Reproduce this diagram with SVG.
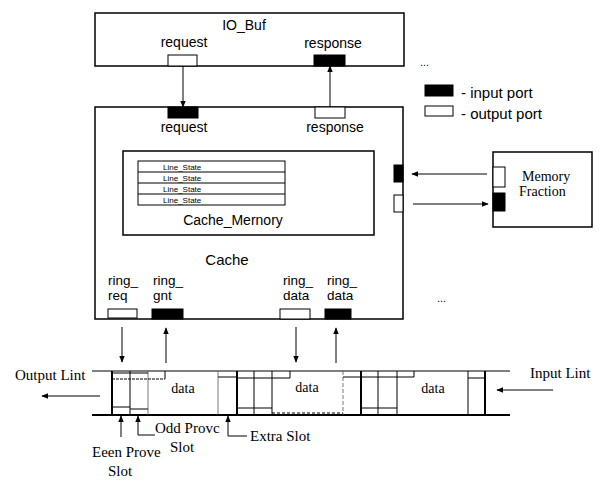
<svg xmlns="http://www.w3.org/2000/svg" width="603" height="481" viewBox="0 0 603 481">
<defs>
<marker id="ah" viewBox="0 0 10 10" refX="9" refY="5" markerWidth="7" markerHeight="7" orient="auto-start-reverse" markerUnits="userSpaceOnUse">
<path d="M0,1 L10,5 L0,9 z" fill="#000"/>
</marker>
<style>
.box{fill:#fff;stroke:#000;stroke-width:1.5}
.in{fill:#000;stroke:#000;stroke-width:1}
.out{fill:#fff;stroke:#000;stroke-width:1}
.sans{font-family:"Liberation Sans",Arial,sans-serif;fill:#000}
.serif{font-family:"Liberation Serif","Times New Roman",serif;fill:#000}
.ln{stroke:#000;stroke-width:1;fill:none}
.thk{stroke:#000;stroke-width:2;fill:none}
.thin{stroke:#555;stroke-width:0.8;fill:none}
.arr{stroke:#000;stroke-width:1;fill:none;marker-end:url(#ah)}
</style>
</defs>
<rect width="603" height="481" fill="#fff"/>

<g id="io_buf">
<rect class="box" x="95" y="13" width="309" height="53"/>
<text class="sans" x="244" y="30" font-size="14" text-anchor="middle">IO_Buf</text>
<text class="sans" x="184" y="47" font-size="14" text-anchor="middle">request</text>
<text class="sans" x="333" y="48" font-size="14" text-anchor="middle">response</text>
<rect class="out" x="168" y="55" width="29" height="11"/>
<rect class="in" x="314" y="55" width="31" height="11"/>
</g>
<text class="sans" x="420" y="66" font-size="11">...</text>

<g id="legend">
<rect class="in" x="425" y="85" width="28" height="11"/>
<text class="sans" x="461" y="98" font-size="15">- input port</text>
<rect class="out" x="425" y="106" width="28" height="10"/>
<text class="sans" x="461" y="119" font-size="15">- output port</text>
</g>

<g id="cache">
<rect class="box" x="95" y="107" width="308" height="212"/>
<rect class="in" x="168" y="107" width="30" height="11"/>
<rect class="out" x="315" y="107" width="30" height="11"/>
<text class="sans" x="184" y="132" font-size="14" text-anchor="middle">request</text>
<text class="sans" x="335" y="132" font-size="14" text-anchor="middle">response</text>
<rect class="in" x="394" y="165" width="9" height="17"/>
<rect class="out" x="394" y="195" width="9" height="17"/>
<text class="sans" x="227" y="265" font-size="15" text-anchor="middle">Cache</text>
<text class="sans" x="108" y="285" font-size="13.5">ring_</text>
<text class="sans" x="108" y="300" font-size="13.5">req</text>
<text class="sans" x="153" y="285" font-size="13.5">ring_</text>
<text class="sans" x="153" y="300" font-size="13.5">gnt</text>
<text class="sans" x="283" y="285" font-size="13.5">ring_</text>
<text class="sans" x="283" y="300" font-size="13.5">data</text>
<text class="sans" x="327" y="285" font-size="13.5">ring_</text>
<text class="sans" x="327" y="300" font-size="13.5">data</text>
<rect class="out" x="108" y="309" width="29" height="9"/>
<rect class="in" x="152" y="309" width="31" height="10"/>
<rect class="out" x="280" y="309" width="30" height="10"/>
<rect class="in" x="325" y="309" width="26" height="10"/>
</g>
<text class="sans" x="437" y="302" font-size="11">...</text>

<g id="cache_memory">
<rect class="box" x="123" y="151" width="251" height="84" stroke-width="1.2"/>
<rect x="138" y="161" width="147" height="44" fill="none" stroke="#000" stroke-width="1"/>
<line class="ln" x1="138" y1="172" x2="285" y2="172"/>
<line class="ln" x1="138" y1="183" x2="285" y2="183"/>
<line class="ln" x1="138" y1="194" x2="285" y2="194"/>
<text class="sans" x="163" y="170" font-size="8">Line_State</text>
<text class="sans" x="163" y="181" font-size="8">Line_State</text>
<text class="sans" x="163" y="192" font-size="8">Line_State</text>
<text class="sans" x="163" y="203" font-size="8">Line_State</text>
<text class="sans" x="233" y="225" font-size="14" text-anchor="middle">Cache_Mernory</text>
</g>

<g id="memory_fraction">
<rect class="box" x="493" y="152" width="99" height="75"/>
<rect class="out" x="493" y="167" width="12" height="20"/>
<rect class="in" x="493" y="193" width="12" height="18"/>
<text class="serif" x="522" y="181" font-size="14">Memory</text>
<text class="serif" x="519" y="196" font-size="14">Fraction</text>
</g>

<g id="ring">
<line class="ln" x1="92" y1="371" x2="510" y2="371" stroke-width="1.3"/>
<line class="thk" x1="92" y1="415" x2="510" y2="415"/>
<line class="thk" x1="112" y1="371" x2="112" y2="415"/>
<line class="ln" x1="130" y1="371" x2="130" y2="415"/>
<line class="thin" x1="148" y1="371" x2="148" y2="415"/>
<line class="thin" x1="218" y1="371" x2="218" y2="415"/>
<line class="thk" x1="237" y1="371" x2="237" y2="415"/>
<line class="ln" x1="254" y1="371" x2="254" y2="415"/>
<line class="ln" x1="272" y1="371" x2="272" y2="415"/>
<line class="thin" x1="343" y1="371" x2="343" y2="415" stroke-dasharray="4,2"/>
<line class="thk" x1="361" y1="371" x2="361" y2="415"/>
<line class="ln" x1="378" y1="371" x2="378" y2="415"/>
<line class="ln" x1="397" y1="371" x2="397" y2="415"/>
<line class="ln" x1="468" y1="371" x2="468" y2="415"/>
<line class="thk" x1="485" y1="371" x2="485" y2="415"/>
<line class="ln" x1="112" y1="373" x2="148" y2="373"/>
<line class="ln" x1="112" y1="379" x2="165" y2="379" stroke-dasharray="3,1"/>
<line class="ln" x1="165" y1="371" x2="165" y2="379"/>
<line class="ln" x1="112" y1="407" x2="130" y2="407"/>
<line class="ln" x1="130" y1="409" x2="148" y2="409"/>
<line class="ln" x1="218" y1="377" x2="237" y2="377"/>
<line class="ln" x1="237" y1="378" x2="290" y2="378"/>
<line class="ln" x1="290" y1="371" x2="290" y2="378"/>
<line class="ln" x1="237" y1="408" x2="272" y2="408"/>
<line class="ln" x1="272" y1="413" x2="343" y2="413" stroke-dasharray="3,2"/>
<line class="ln" x1="343" y1="377" x2="414" y2="377"/>
<line class="ln" x1="414" y1="371" x2="414" y2="377"/>
<line class="ln" x1="361" y1="408" x2="397" y2="408"/>
<line class="ln" x1="468" y1="378" x2="485" y2="378"/>
<text class="serif" x="183" y="393" font-size="14" text-anchor="middle">data</text>
<text class="serif" x="307" y="392" font-size="14" text-anchor="middle">data</text>
<text class="serif" x="433" y="393" font-size="14" text-anchor="middle">data</text>
</g>

<g id="labels">
<text class="serif" x="15" y="380" font-size="15">Output Lint</text>
<text class="serif" x="530" y="378" font-size="15">Input Lint</text>
<text class="serif" x="92" y="457" font-size="15">Eeen Prove</text>
<text class="serif" x="108" y="476" font-size="15">Slot</text>
<text class="serif" x="155" y="433" font-size="15">Odd Provc</text>
<text class="serif" x="170" y="452" font-size="15">Slot</text>
<text class="serif" x="250" y="441" font-size="15">Extra  Slot</text>
</g>

<g id="connectors">
<line class="arr" x1="183" y1="66" x2="183" y2="107"/>
<line class="arr" x1="330" y1="107" x2="330" y2="66"/>
<line class="arr" x1="487" y1="174" x2="412" y2="174"/>
<line class="arr" x1="413" y1="204" x2="488" y2="204"/>
<line class="arr" x1="122" y1="327" x2="122" y2="362"/>
<line class="arr" x1="166" y1="363" x2="166" y2="328"/>
<line class="arr" x1="296" y1="327" x2="296" y2="362"/>
<line class="arr" x1="336" y1="363" x2="336" y2="328"/>
<line class="arr" x1="100" y1="396" x2="42" y2="396"/>
<line class="arr" x1="553" y1="390" x2="497" y2="390"/>
<line class="arr" x1="121" y1="437" x2="121" y2="416"/>
<polyline class="arr" points="155,435 138,435 138,416"/>
<polyline class="arr" points="247,436 228,436 228,416"/>
</g>
</svg>
